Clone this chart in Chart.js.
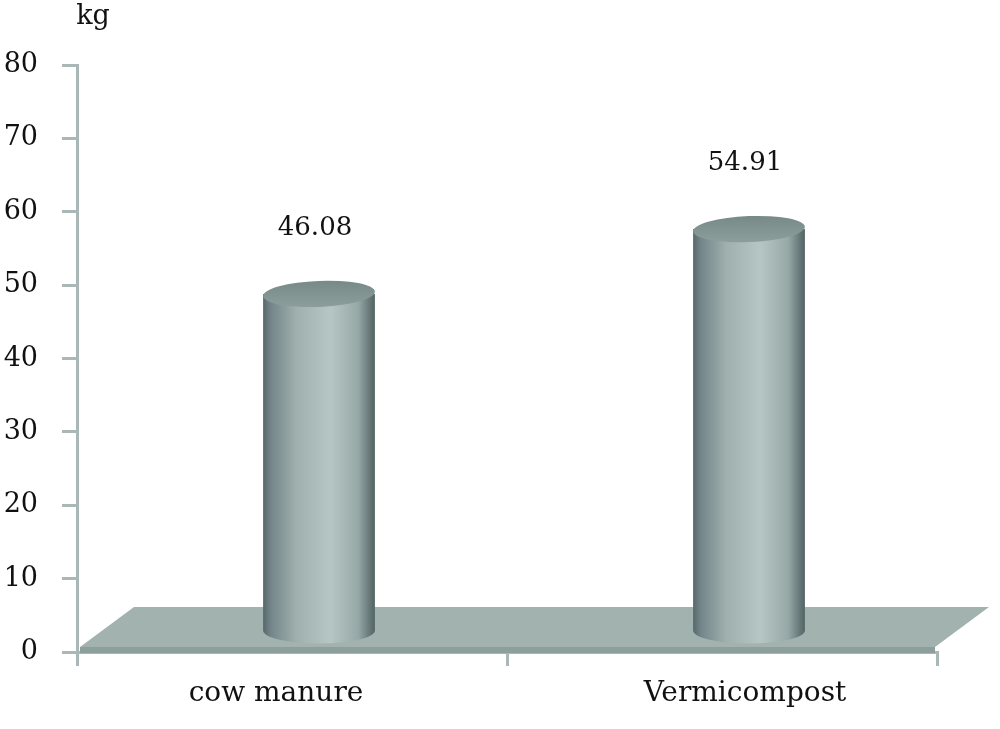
<!DOCTYPE html>
<html>
<head>
<meta charset="utf-8">
<script src="https://cdn.jsdelivr.net/npm/chart.js@4/dist/chart.umd.min.js"></script>
<style>
  html, body { margin: 0; padding: 0; background: #fff; }
  #wrap { width: 1000px; height: 729px; position: relative; }
</style>
</head>
<body>
<div id="wrap"><canvas id="kgChart" width="1000" height="729"></canvas></div>
<script>
const categories = ['cow manure', 'Vermicompost'];
const values = [46.08, 54.91];
const unitLabel = 'kg';
const yMin = 0, yMax = 80, yStep = 10;

const axisColor = '#a9b8b6';
const depthX = 54, depthY = -40;   // floor depth (back edge offset)
const labelShift = [-16, 23];       // category labels sit a little off-centre in the original

const cylinders = {
  id: 'cylinders',
  beforeDatasetsDraw(chart) {
    const { ctx, chartArea } = chart;
    const y0 = chart.scales.y.getPixelForValue(0);
    const l = chartArea.left + 3, r = chartArea.right - 2;
    ctx.save();
    // floor top
    ctx.beginPath();
    ctx.moveTo(l, y0 - 5);
    ctx.lineTo(r, y0 - 5);
    ctx.lineTo(r + depthX, y0 - 5 + depthY);
    ctx.lineTo(l + depthX, y0 - 5 + depthY);
    ctx.closePath();
    ctx.fillStyle = '#a1b2af';
    ctx.fill();
    // front edge
    ctx.fillStyle = '#8d9f9c';
    ctx.fillRect(l, y0 - 5, r - l, 6);
    ctx.restore();
  },
  afterDatasetsDraw(chart) {
    const { ctx } = chart;
    const meta = chart.getDatasetMeta(0);
    meta.data.forEach((bar, i) => {
      const cx = bar.x + depthX / 2;
      const rx = bar.width / 2, ry = 13;
      const topY = bar.y + depthY / 2;
      const baseY = bar.base + depthY / 2;
      ctx.save();
      const g = ctx.createLinearGradient(cx - rx, 0, cx + rx, 0);
      g.addColorStop(0, '#56686a');
      g.addColorStop(0.07, '#74868a');
      g.addColorStop(0.3, '#a0b0ae');
      g.addColorStop(0.6, '#b6c6c4');
      g.addColorStop(0.85, '#97a9a7');
      g.addColorStop(0.95, '#68797a');
      g.addColorStop(1, '#526462');
      ctx.beginPath();
      ctx.moveTo(cx - rx, topY);
      ctx.lineTo(cx - rx, baseY);
      ctx.ellipse(cx, baseY, rx, ry, 0, Math.PI, 0, true);
      ctx.lineTo(cx + rx, topY);
      ctx.closePath();
      ctx.fillStyle = g;
      ctx.fill();
      // top cap
      const tg = ctx.createLinearGradient(0, topY - ry, 0, topY + ry);
      tg.addColorStop(0, '#788a88');
      tg.addColorStop(1, '#8c9e9c');
      ctx.beginPath();
      ctx.ellipse(cx, topY, rx, ry, -0.04, 0, Math.PI * 2);
      ctx.fillStyle = tg;
      ctx.fill();
      // value label
      ctx.fillStyle = '#111';
      ctx.font = '26px "DejaVu Serif"';
      ctx.textAlign = 'center';
      ctx.textBaseline = 'middle';
      ctx.fillText(values[i].toFixed(2), cx - 4, topY - 66);
      // category label
      ctx.font = '28px "DejaVu Serif"';
      ctx.fillText(categories[i], bar.x + labelShift[i], 694);
      ctx.restore();
    });
    // unit label
    ctx.save();
    ctx.fillStyle = '#111';
    ctx.font = '27px "DejaVu Serif"';
    ctx.textAlign = 'center';
    ctx.textBaseline = 'middle';
    ctx.fillText(unitLabel, 93, 17);
    ctx.restore();
  }
};

new Chart(document.getElementById('kgChart').getContext('2d'), {
  type: 'bar',
  data: {
    labels: categories,
    datasets: [{ data: values, backgroundColor: 'rgba(0,0,0,0)', barPercentage: 0.26, categoryPercentage: 1 }]
  },
  options: {
    responsive: false,
    animation: false,
    layout: { padding: { top: 65, right: 63, left: 0, bottom: 0 } },
    plugins: { legend: { display: false }, tooltip: { enabled: false } },
    scales: {
      y: {
        min: yMin, max: yMax,
        ticks: { stepSize: yStep, color: '#111', font: { family: 'DejaVu Serif', size: 27 }, padding: 24 },
        grid: { drawOnChartArea: false, tickLength: 15, color: axisColor, lineWidth: 3 },
        border: { color: axisColor, width: 3 },
        afterFit(scale) { scale.width = 77; }
      },
      x: {
        ticks: { display: false },
        grid: { offset: true, drawOnChartArea: false, tickLength: 14, color: axisColor, lineWidth: 3 },
        border: { color: axisColor, width: 3 },
        afterFit(scale) { scale.height = 77; }
      }
    }
  },
  plugins: [cylinders]
});
</script>
</body>
</html>
